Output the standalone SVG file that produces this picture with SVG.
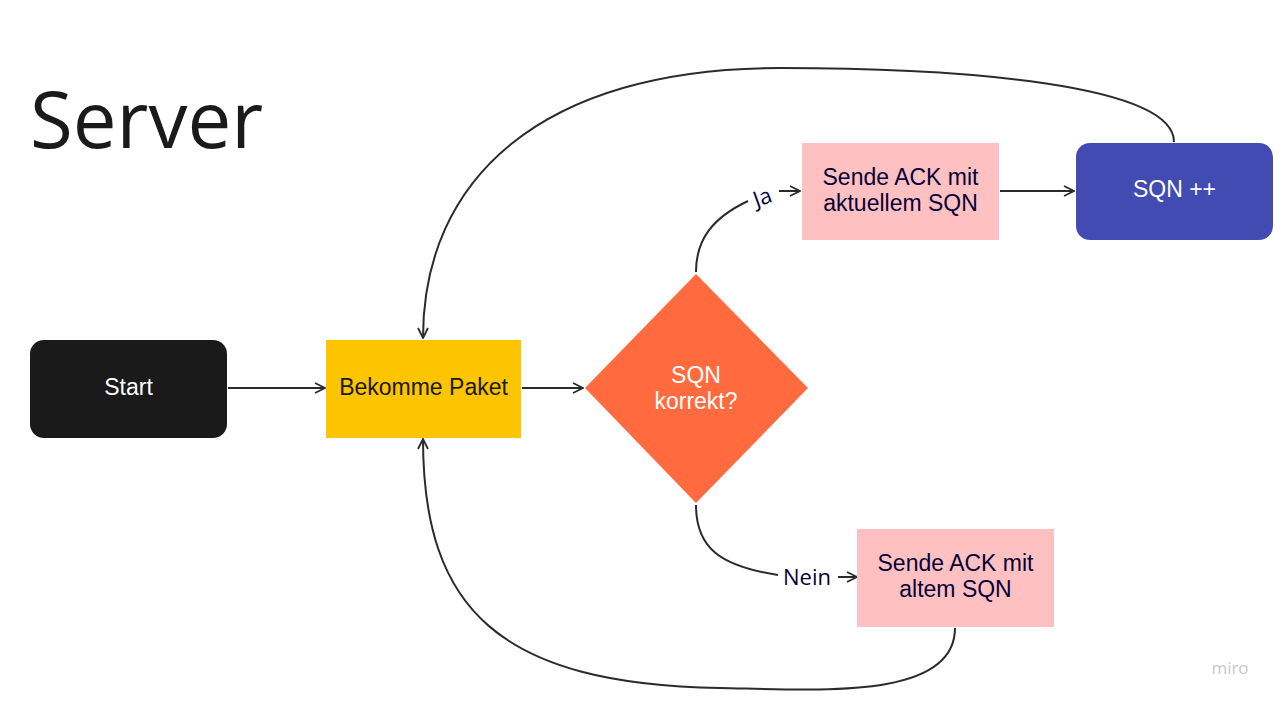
<svg xmlns="http://www.w3.org/2000/svg" width="1280" height="705" viewBox="0 0 1280 705">
<style>
.node-text{font-family:"Liberation Sans",Arial,sans-serif;font-size:23px;text-anchor:middle;dominant-baseline:central}
.light{fill:#ffffff}
.dark{fill:#050038}
.conn{fill:none;stroke:#2b2b2b;stroke-width:2}
.label{font-family:"Open Sans","Noto Sans",sans-serif;font-size:22px;fill:#050038}
</style>
<defs>
<marker id="arr" viewBox="0 0 12 12" refX="11" refY="6" markerWidth="12" markerHeight="12" markerUnits="userSpaceOnUse" orient="auto">
<path d="M1,1 L11,6 L1,11" fill="none" stroke="#2b2b2b" stroke-width="1.8"/>
</marker>
</defs>
<rect width="1280" height="705" fill="#ffffff"/>
<text x="30" y="148" font-family="Open Sans, Noto Sans, sans-serif" font-size="78" fill="#1a1a1a">Server</text>
<text x="1230" y="674" font-family="Open Sans, Noto Sans, sans-serif" font-size="17" fill="#c8c8c8" text-anchor="middle">miro</text>

<g id="connectors">
<path class="conn" d="M228,388 L325,388" marker-end="url(#arr)"/>
<path class="conn" d="M522,388 L583,388" marker-end="url(#arr)"/>
<path class="conn" d="M696,272 C696,240 712,218 748,201"/>
<path class="conn" d="M779,191 L800,191" marker-end="url(#arr)"/>
<path class="conn" d="M1000,191 L1074,191" marker-end="url(#arr)"/>
<path class="conn" d="M1174,142 C1174,84 960,68 780,68 C540,68 423,180 423,338" marker-end="url(#arr)"/>
<path class="conn" d="M696,505 C696,548 720,566 778,575"/>
<path class="conn" d="M838,577 L857,577" marker-end="url(#arr)"/>
<path class="conn" d="M955,628 C955,700 820,690 720,688 C500,684 423,610 423,439" marker-end="url(#arr)"/>
<text class="label" x="762" y="196" text-anchor="middle" dominant-baseline="central" transform="rotate(-20 762 196)">Ja</text>
<text class="label" x="807" y="576" text-anchor="middle" dominant-baseline="central">Nein</text>
</g>

<g id="start">
<rect x="30" y="340" width="197" height="98" rx="14" fill="#1a1a1a"/>
<text class="node-text light" x="128.5" y="387">Start</text>
</g>
<g id="bekomme-paket">
<rect x="326" y="340" width="195" height="98" fill="#fdc400"/>
<text class="node-text" x="423.5" y="387" fill="#1a1a1a">Bekomme Paket</text>
</g>
<g id="sqn-korrekt">
<polygon points="696,274 808,388 696,503 585,388" fill="#ff6a3e"/>
<text class="node-text light" x="696" y="375">SQN</text>
<text class="node-text light" x="696" y="401">korrekt?</text>
</g>
<g id="ack-aktuell">
<rect x="802" y="143" width="197" height="97" fill="#ffc0c2"/>
<text class="node-text dark" x="900.5" y="177">Sende ACK mit</text>
<text class="node-text dark" x="900.5" y="203">aktuellem SQN</text>
</g>
<g id="sqn-plus">
<rect x="1076" y="143" width="197" height="97" rx="14" fill="#414bb2"/>
<text class="node-text light" x="1174.5" y="189">SQN ++</text>
</g>
<g id="ack-alt">
<rect x="857" y="529" width="197" height="98" fill="#ffc0c2"/>
<text class="node-text dark" x="955.5" y="563">Sende ACK mit</text>
<text class="node-text dark" x="955.5" y="589">altem SQN</text>
</g>
</svg>
